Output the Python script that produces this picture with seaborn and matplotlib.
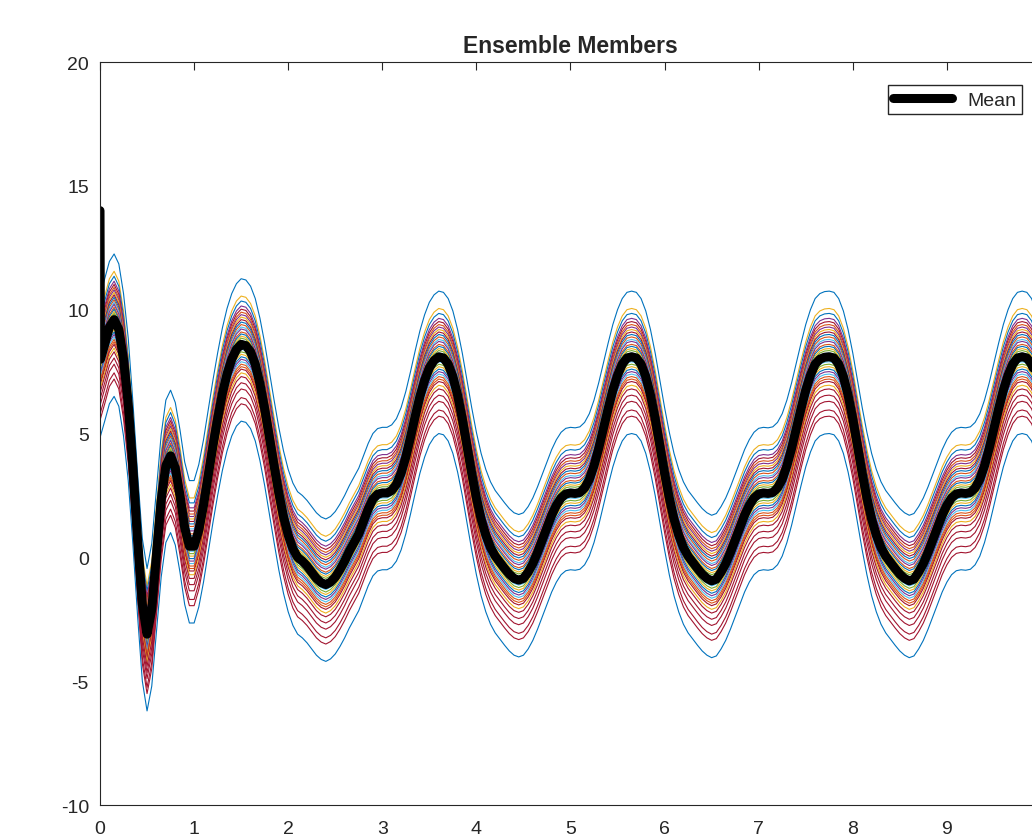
import numpy as np
import pandas as pd
import matplotlib
matplotlib.use("Agg")
import matplotlib.pyplot as plt
import seaborn as sns

# time samples: initial value, the jump right after it, then every 0.05
time = np.concatenate([[0.0, 0.005], np.round(np.arange(1, 201) * 0.05, 2)])

# ensemble mean
mean_start = [14.0, 8.0]
mean_transient = [8.6, 9.3, 9.6, 9.2, 8.0, 6.2, 3.6, 0.7, -1.9, -3.1,
                  -2.1, 0.1, 2.3, 3.7, 4.1, 3.6, 2.5, 1.2, 0.45, 0.45,
                  1.1, 2.1, 3.3, 4.5, 5.6, 6.6, 7.4, 8.0, 8.4, 8.6]
mean_cycle1 = [8.55, 8.3, 7.8, 7.0, 6.0, 4.85, 3.7, 2.6, 1.65, 0.9,
               0.35, 0.0, -0.15, -0.35, -0.6, -0.85, -1.02, -1.1, -1.0, -0.8,
               -0.5, -0.15, 0.25, 0.6, 0.95, 1.45, 1.95, 2.35, 2.55, 2.6,
               2.6, 2.7, 2.95, 3.4, 4.05, 4.85, 5.7, 6.5, 7.15, 7.65,
               7.95, 8.1]
mean_cycle2 = [8.05, 7.8, 7.3, 6.55, 5.6, 4.5, 3.4, 2.4, 1.55, 0.9,
               0.4, 0.05, -0.2, -0.45, -0.68, -0.85, -0.92, -0.85, -0.6, -0.25,
               0.2, 0.7, 1.2, 1.7, 2.1, 2.4, 2.56, 2.6, 2.58, 2.62,
               2.8, 3.15, 3.7, 4.4, 5.2, 6.0, 6.75, 7.35, 7.8, 8.05,
               8.1]
mean_cycle3 = [8.05, 7.8, 7.3, 6.55, 5.6, 4.5, 3.4, 2.4, 1.55, 0.9,
               0.4, 0.05, -0.2, -0.45, -0.68, -0.85, -0.95, -0.88, -0.6, -0.25,
               0.2, 0.7, 1.2, 1.7, 2.1, 2.4, 2.56, 2.6, 2.58, 2.62,
               2.8, 3.15, 3.7, 4.4, 5.2, 6.0, 6.75, 7.35, 7.8, 8.0,
               8.08, 8.1]
mean_cycle4 = [8.05, 7.8, 7.3, 6.55, 5.6, 4.5, 3.4, 2.4, 1.55, 0.9,
               0.4, 0.05, -0.2, -0.45, -0.68, -0.85, -0.95, -0.88, -0.6, -0.25,
               0.2, 0.7, 1.2, 1.7, 2.1, 2.4, 2.56, 2.6, 2.58, 2.62,
               2.8, 3.15, 3.7, 4.4, 5.2, 6.0, 6.75, 7.35, 7.8, 8.05,
               8.1, 8.05, 7.8, 7.3, 6.55]
mean = np.array(mean_start + mean_transient + mean_cycle1 + mean_cycle2
                + mean_cycle3 + mean_cycle4)

# each member sits at a roughly constant distance from the mean
member_offsets = [2.65, 1.95, 1.75, 1.55, 1.42, 1.30, 1.20, 1.10, 1.00, 0.90,
                  0.80, 0.70, 0.62, 0.50, 0.42, 0.33, 0.25, 0.15, 0.08, 0.00,
                  -0.10, -0.20, -0.30, -0.40, -0.50, -0.60, -0.70, -0.80, -0.90, -1.00,
                  -1.15, -1.30, -1.55, -1.80, -2.15, -2.40, -3.10]
# value of each member at t = 0
member_starts = [16.7, 15.0, 15.6, 14.8, 14.3, 14.6, 13.9, 15.1, 14.2, 13.5,
                 14.9, 13.8, 14.4, 13.2, 14.7, 15.3, 13.6, 14.1, 12.9, 14.5,
                 13.4, 14.0, 13.1, 14.8, 12.6, 13.7, 14.2, 12.4, 13.9, 12.2,
                 15.2, 11.8, 12.5, 11.3, 10.8, 11.9, 13.0]

# MATLAB default line colours
mblue, morange, myellow, mpurple = "#0072BD", "#D95319", "#EDB120", "#7E2F8E"
mgreen, mcyan, mred = "#77AC30", "#4DBEEE", "#A2142F"
member_colors = [mblue, myellow, mblue, mpurple, mred, morange, mpurple, myellow, mred, mblue,
                 morange, mcyan, mpurple, morange, mblue, myellow, mgreen, mcyan, mgreen, morange,
                 mgreen, mcyan, mgreen, myellow, mblue, mpurple, mcyan, morange, morange, mred,
                 myellow, mred, mred, mred, mred, mred, mblue]

frames = []
for i, (off, start) in enumerate(zip(member_offsets, member_starts)):
    vals = mean + off
    vals[0] = start
    frames.append(pd.DataFrame({"t": time, "value": vals, "member": f"m{i:02d}"}))
members_df = pd.concat(frames, ignore_index=True)

sns.set_style("white")
plt.rcParams["font.family"] = ["Liberation Sans", "DejaVu Sans"]
plt.rcParams["axes.unicode_minus"] = False

fig = plt.figure(figsize=(10.32, 8.37), dpi=100)
ax = fig.add_axes([0.0969, 0.037, 0.9118, 0.8877])

sns.lineplot(data=members_df, x="t", y="value", hue="member",
             palette=member_colors, estimator=None, sort=False,
             linewidth=0.8, legend=False, ax=ax)
sns.lineplot(x=time, y=mean, color="black", linewidth=6.5, label="Mean",
             estimator=None, sort=False, ax=ax)

ax.set_xlim(0, 10)
ax.set_ylim(-10, 20)
ax.set_xticks(range(0, 10))
ax.set_yticks(range(-10, 21, 5))
ax.set_xlabel("")
ax.set_ylabel("")
ax.tick_params(direction="in", length=6, width=0.8, top=True, right=True,
               labelsize=14, colors="#262626")
ax.tick_params(axis="x", pad=11)
ax.tick_params(axis="y", pad=8)
for sp in ax.spines.values():
    sp.set_color("#262626")
    sp.set_linewidth(0.8)

ax.set_title("Ensemble Members", fontsize=16.5, fontweight="bold", pad=7)
ax.legend(loc="upper right", bbox_to_anchor=(0.98, 0.969), frameon=True,
          fancybox=False, edgecolor="#262626", framealpha=1, fontsize=14,
          handlelength=3.0, borderpad=0.3, borderaxespad=0)

fig.savefig("out.png", dpi=100)
